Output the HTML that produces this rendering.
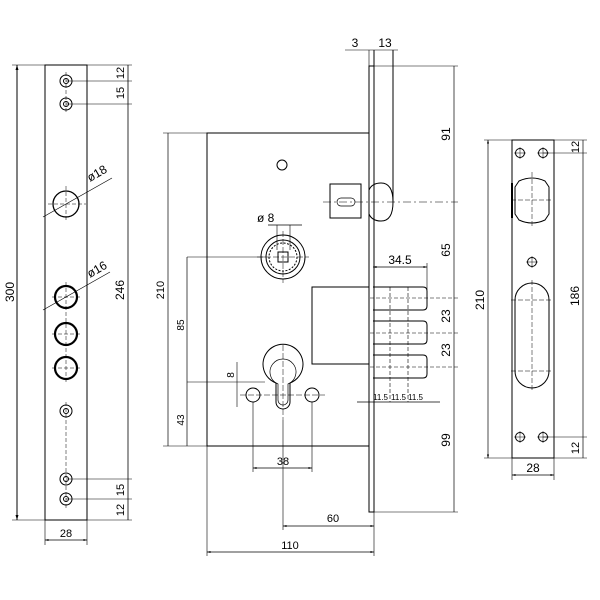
<!DOCTYPE html>
<html><head><style>body{margin:0;background:#fff}svg{display:block}text{font-family:"Liberation Sans",sans-serif;fill:#000}</style></head><body>
<svg width="600" height="600" viewBox="0 0 600 600" xmlns="http://www.w3.org/2000/svg" stroke="#000" fill="none" stroke-width="1">
<defs><marker id="a" viewBox="0 0 10 10" refX="10" refY="5" markerWidth="5" markerHeight="5" orient="auto-start-reverse"><path d="M0,2L10,5L0,8z" fill="#000" stroke="none"/></marker></defs>
<g stroke-width="1">
<!-- LEFT PLATE -->
<rect x="45" y="65" width="42" height="455"/>
<line x1="17" y1="65" x2="17" y2="520" marker-start="url(#a)" marker-end="url(#a)"/>
<line x1="12" y1="65" x2="45" y2="65" stroke-width="0.6"/><line x1="12" y1="520" x2="45" y2="520" stroke-width="0.6"/>
<line x1="128" y1="65" x2="128" y2="520" stroke-width="0.8"/>
<line x1="87" y1="65" x2="132" y2="65" stroke-width="0.6"/><line x1="87" y1="520" x2="132" y2="520" stroke-width="0.6"/>
<g stroke-width="0.6">
<line x1="66" y1="81" x2="132" y2="81"/><line x1="66" y1="104" x2="132" y2="104"/>
<line x1="66" y1="479" x2="132" y2="479"/><line x1="66" y1="499" x2="132" y2="499"/>
</g>
<g fill="none">
<circle cx="66" cy="81" r="6"/><circle cx="66" cy="81" r="2.5"/>
<circle cx="66" cy="104" r="6"/><circle cx="66" cy="104" r="2.5"/>
<circle cx="66" cy="411" r="6"/><circle cx="66" cy="411" r="2.5"/>
<circle cx="66" cy="479" r="6"/><circle cx="66" cy="479" r="2.5"/>
<circle cx="66" cy="499" r="6"/><circle cx="66" cy="499" r="2.5"/>
<circle cx="66" cy="204" r="13" stroke-width="1.3"/>
<circle cx="66" cy="297" r="11" stroke-width="2.2"/>
<circle cx="66" cy="334" r="11" stroke-width="2.2"/>
<circle cx="66" cy="368" r="11" stroke-width="2.2"/>
</g>
<g stroke-width="0.5" stroke-dasharray="4,2">
<line x1="66" y1="72" x2="66" y2="113"/><line x1="66" y1="186" x2="66" y2="222"/><line x1="48" y1="204" x2="86" y2="204"/>
<line x1="66" y1="282" x2="66" y2="382"/><line x1="52" y1="297" x2="80" y2="297"/><line x1="52" y1="334" x2="80" y2="334"/><line x1="52" y1="368" x2="80" y2="368"/>
<line x1="66" y1="402" x2="66" y2="508"/>
</g>
<line x1="43" y1="217" x2="112" y2="178" stroke-width="0.7"/>
<line x1="43" y1="310" x2="110" y2="272" stroke-width="0.7"/>
<text x="90" y="182" font-size="12" stroke="none" transform="rotate(-30 90 182)">ø18</text>
<text x="90" y="278" font-size="12" stroke="none" transform="rotate(-30 90 278)">ø16</text>
<text x="14" y="292" font-size="12" stroke="none" text-anchor="middle" transform="rotate(-90 14 292)">300</text>
<text x="124" y="290" font-size="12" stroke="none" text-anchor="middle" transform="rotate(-90 124 290)">246</text>
<text x="124" y="73" font-size="11" stroke="none" text-anchor="middle" transform="rotate(-90 124 73)">12</text>
<text x="124" y="93" font-size="11" stroke="none" text-anchor="middle" transform="rotate(-90 124 93)">15</text>
<text x="124" y="490" font-size="11" stroke="none" text-anchor="middle" transform="rotate(-90 124 490)">15</text>
<text x="124" y="510" font-size="11" stroke="none" text-anchor="middle" transform="rotate(-90 124 510)">12</text>
<line x1="45" y1="520" x2="45" y2="545" stroke-width="0.6"/><line x1="87" y1="520" x2="87" y2="545" stroke-width="0.6"/>
<line x1="45" y1="540" x2="87" y2="540" marker-start="url(#a)" marker-end="url(#a)" stroke-width="0.7"/>
<text x="66" y="537" font-size="11" stroke="none" text-anchor="middle">28</text>

<!-- MIDDLE -->
<rect x="207" y="133" width="162" height="313"/>
<rect x="369" y="66" width="5" height="446"/>
<polyline points="374,50 374,66"/><line x1="393" y1="50" x2="393" y2="202"/><line x1="369" y1="50" x2="369" y2="66" stroke-width="0.6"/>
<line x1="345" y1="50" x2="398" y2="50" stroke-width="0.6"/>
<text x="355" y="47" font-size="12" stroke="none" text-anchor="middle">3</text>
<text x="385" y="47" font-size="12" stroke="none" text-anchor="middle">13</text>
<circle cx="282" cy="165" r="5"/>
<!-- latch -->
<path d="M330,184 H361 V218 H330 Z"/>
<path d="M369,190 Q372,183 381,183 Q393,183 393,202 Q393,221 381,221 Q372,221 369,214"/>
<rect x="337" y="198" width="18" height="8" rx="4" stroke-width="0.7"/>
<line x1="323" y1="202" x2="458" y2="202" stroke-width="0.6" stroke-dasharray="8,3,2,3"/>
<!-- spindle -->
<circle cx="283" cy="257" r="22"/><circle cx="283" cy="257" r="17"/><circle cx="283" cy="257" r="14" stroke-dasharray="2,1.5"/>
<rect x="278" y="252" width="10" height="10"/>
<line x1="283" y1="231" x2="283" y2="283" stroke-width="0.5" stroke-dasharray="6,2"/>
<line x1="257" y1="257" x2="309" y2="257" stroke-width="0.5" stroke-dasharray="6,2"/>
<line x1="277" y1="225" x2="277" y2="250" stroke-width="0.6"/><line x1="290" y1="225" x2="290" y2="250" stroke-width="0.6"/>
<line x1="268" y1="225" x2="302" y2="225" stroke-width="0.7"/>
<text x="257" y="222" font-size="12" stroke="none">ø 8</text>
<!-- bolt box -->
<polyline points="369,287 312,287 312,364 369,364"/>
<g>
<path d="M373,287 H423 Q427,287 427,291 V306 Q427,310 423,310 H373"/>
<path d="M373,321 H423 Q427,321 427,325 V340 Q427,344 423,344 H373"/>
<path d="M373,355 H423 Q427,355 427,359 V374 Q427,378 423,378 H373"/>
</g>
<g stroke-width="0.6" stroke-dasharray="4,2">
<line x1="390" y1="287" x2="390" y2="402"/><line x1="408" y1="287" x2="408" y2="402"/>
<line x1="370" y1="298" x2="458" y2="298"/><line x1="370" y1="333" x2="458" y2="333"/><line x1="370" y1="367" x2="458" y2="367"/>
</g>
<line x1="427" y1="263" x2="427" y2="290" stroke-width="0.6"/>
<line x1="373" y1="267" x2="427" y2="267" marker-start="url(#a)" marker-end="url(#a)" stroke-width="0.7"/>
<text x="400" y="264" font-size="12" stroke="none" text-anchor="middle">34.5</text>
<line x1="357" y1="402" x2="440" y2="402" stroke-width="0.7"/>
<text x="373" y="400" font-size="8" stroke="none">11.5</text><text x="391" y="400" font-size="8" stroke="none">11.5</text><text x="408" y="400" font-size="8" stroke="none">11.5</text>
<!-- right dims -->
<line x1="454" y1="66" x2="454" y2="512" stroke-width="0.7"/>
<line x1="374" y1="66" x2="458" y2="66" stroke-width="0.6"/><line x1="374" y1="512" x2="458" y2="512" stroke-width="0.6"/>
<text x="450" y="134" font-size="12" stroke="none" text-anchor="middle" transform="rotate(-90 450 134)">91</text>
<text x="450" y="250" font-size="12" stroke="none" text-anchor="middle" transform="rotate(-90 450 250)">65</text>
<text x="450" y="316" font-size="12" stroke="none" text-anchor="middle" transform="rotate(-90 450 316)">23</text>
<text x="450" y="350" font-size="12" stroke="none" text-anchor="middle" transform="rotate(-90 450 350)">23</text>
<text x="450" y="440" font-size="12" stroke="none" text-anchor="middle" transform="rotate(-90 450 440)">99</text>
<!-- cylinder -->
<path d="M276,383 A20,20 0 1 1 290,383 V402 A7,7 0 0 1 276,402 Z"/>
<path d="M278,384 A13,13 0 1 1 288,384 V400 A5,5 0 0 1 278,400 Z" stroke-width="0.7"/>
<circle cx="253" cy="395" r="7"/><circle cx="312" cy="395" r="7"/>
<g stroke-width="0.5" stroke-dasharray="6,2">
<line x1="283" y1="345" x2="283" y2="420"/><line x1="240" y1="395" x2="325" y2="395"/>
</g>
<line x1="187" y1="257" x2="265" y2="257" stroke-width="0.6"/>
<line x1="187" y1="382" x2="265" y2="382" stroke-width="0.6"/>
<line x1="187" y1="257" x2="187" y2="446" stroke-width="0.7"/>
<text x="184" y="325" font-size="10" stroke="none" text-anchor="middle" transform="rotate(-90 184 325)">85</text>
<text x="184" y="420" font-size="10" stroke="none" text-anchor="middle" transform="rotate(-90 184 420)">43</text>
<line x1="237" y1="362" x2="237" y2="407" stroke-width="0.6"/>
<text x="234" y="375" font-size="10" stroke="none" text-anchor="middle" transform="rotate(-90 234 375)">8</text>
<line x1="168" y1="133" x2="168" y2="446" stroke-width="0.7"/>
<line x1="163" y1="133" x2="207" y2="133" stroke-width="0.6"/><line x1="163" y1="446" x2="207" y2="446" stroke-width="0.6"/>
<text x="164" y="290" font-size="11" stroke="none" text-anchor="middle" transform="rotate(-90 164 290)">210</text>
<g stroke-width="0.6">
<line x1="207" y1="446" x2="207" y2="556"/><line x1="374" y1="512" x2="374" y2="556"/>
<line x1="253" y1="402" x2="253" y2="472"/><line x1="312" y1="402" x2="312" y2="472"/>
<line x1="283" y1="420" x2="283" y2="530"/>
</g>
<line x1="253" y1="468" x2="312" y2="468" marker-start="url(#a)" marker-end="url(#a)" stroke-width="0.7"/>
<text x="283" y="465" font-size="11" stroke="none" text-anchor="middle">38</text>
<line x1="283" y1="526" x2="374" y2="526" marker-start="url(#a)" marker-end="url(#a)" stroke-width="0.7"/>
<text x="333" y="522" font-size="11" stroke="none" text-anchor="middle">60</text>
<line x1="207" y1="552" x2="374" y2="552" marker-start="url(#a)" marker-end="url(#a)" stroke-width="0.7"/>
<text x="290" y="549" font-size="11" stroke="none" text-anchor="middle">110</text>

<!-- RIGHT PLATE -->
<rect x="512" y="140" width="42" height="318"/>
<line x1="488" y1="140" x2="488" y2="458" stroke-width="0.7" marker-start="url(#a)" marker-end="url(#a)"/>
<line x1="484" y1="140" x2="512" y2="140" stroke-width="0.6"/><line x1="484" y1="458" x2="512" y2="458" stroke-width="0.6"/>
<text x="484" y="300" font-size="12" stroke="none" text-anchor="middle" transform="rotate(-90 484 300)">210</text>
<line x1="583" y1="140" x2="583" y2="458" stroke-width="0.7"/>
<g stroke-width="0.6"><line x1="554" y1="140" x2="587" y2="140"/><line x1="543" y1="153" x2="587" y2="153"/><line x1="543" y1="437" x2="587" y2="437"/><line x1="554" y1="458" x2="587" y2="458"/></g>
<text x="579" y="147" font-size="11" stroke="none" text-anchor="middle" transform="rotate(-90 579 147)">12</text>
<text x="579" y="296" font-size="12" stroke="none" text-anchor="middle" transform="rotate(-90 579 296)">186</text>
<text x="579" y="448" font-size="11" stroke="none" text-anchor="middle" transform="rotate(-90 579 448)">12</text>
<g>
<circle cx="520" cy="153" r="4.5"/><circle cx="543" cy="153" r="4.5"/><circle cx="532" cy="262" r="4.5"/>
<circle cx="520" cy="437" r="4.5"/><circle cx="543" cy="437" r="4.5"/>
</g>
<g stroke-width="0.5"><path d="M514,153h12M520,147v12M537,153h12M543,147v12M526,262h12M532,256v12M514,437h12M520,431v12M537,437h12M543,431v12"/></g>
<path d="M519,181 Q532,175 545,181 L549,187 V214 L545,220 Q532,226 519,220 L515,214 V187 Z"/>
<line x1="512" y1="183" x2="512" y2="218" stroke-width="2"/>
<path d="M515,300 A17,17 0 0 1 549,300 V371 A17,17 0 0 1 515,371 Z"/>
<g stroke-width="0.5" stroke-dasharray="5,2"><line x1="532" y1="172" x2="532" y2="228"/><line x1="511" y1="200" x2="553" y2="200"/><line x1="532" y1="280" x2="532" y2="392"/><line x1="511" y1="300" x2="553" y2="300"/><line x1="511" y1="371" x2="553" y2="371"/></g>
<line x1="512" y1="458" x2="512" y2="480" stroke-width="0.6"/><line x1="554" y1="458" x2="554" y2="480" stroke-width="0.6"/>
<line x1="512" y1="475" x2="554" y2="475" marker-start="url(#a)" marker-end="url(#a)" stroke-width="0.7"/>
<text x="533" y="472" font-size="12" stroke="none" text-anchor="middle">28</text>
</g>
</svg>
</body></html>
